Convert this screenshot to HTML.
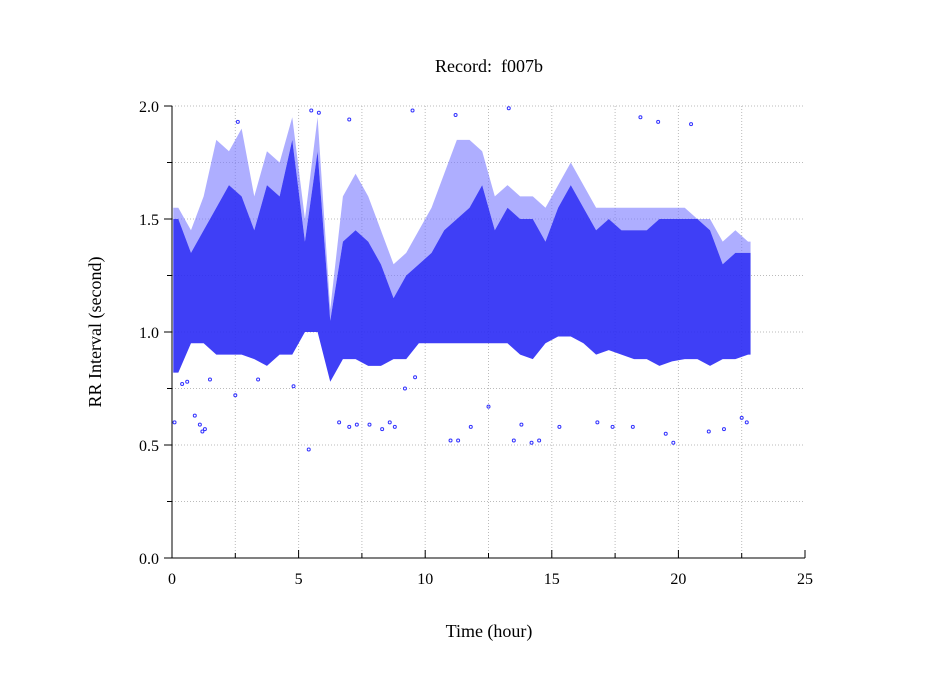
<!DOCTYPE html>
<html><head><meta charset="utf-8"><style>
body{margin:0;background:#fff}
svg{display:block;font-family:"Liberation Serif",serif}
</style></head><body>
<svg id="chart" width="949" height="697" viewBox="0 0 949 697">
<rect width="949" height="697" fill="#fff"/>
<text x="489" y="72" font-size="18" text-anchor="middle">Record:&#160; f007b</text>
<g id="grid"></g>
<g id="bands"></g>
<g id="points"></g>
<g id="axes"></g>
<text x="489" y="637" font-size="18" text-anchor="middle">Time (hour)</text>
<text transform="translate(101,332) rotate(-90)" font-size="18" text-anchor="middle">RR Interval (second)</text>
</svg>
<script>
const binStart=[0,0.5,1,1.5,2,2.5,3,3.5,4,4.5,5,5.5,6,6.5,7,7.5,8,8.5,9,9.5,10,10.5,11,11.5,12,12.5,13,13.5,14,14.5,15,15.5,16,16.5,17,17.5,18,18.5,19,19.5,20,20.5,21,21.5,22,22.5];
const binLow=[0.82,0.95,0.95,0.9,0.9,0.9,0.88,0.85,0.9,0.9,1.0,1.0,0.78,0.88,0.88,0.85,0.85,0.88,0.88,0.95,0.95,0.95,0.95,0.95,0.95,0.95,0.95,0.9,0.88,0.95,0.98,0.98,0.95,0.9,0.92,0.9,0.88,0.88,0.85,0.87,0.88,0.88,0.85,0.88,0.88,0.9];
const binHigh=[1.5,1.35,1.45,1.55,1.65,1.6,1.45,1.65,1.6,1.85,1.4,1.8,1.05,1.4,1.45,1.4,1.3,1.15,1.25,1.3,1.35,1.45,1.5,1.55,1.65,1.45,1.55,1.5,1.5,1.4,1.55,1.65,1.55,1.45,1.5,1.45,1.45,1.45,1.5,1.5,1.5,1.5,1.45,1.3,1.35,1.35];
const binPeak=[1.55,1.45,1.6,1.85,1.8,1.9,1.6,1.8,1.75,1.95,1.5,1.95,1.1,1.6,1.7,1.6,1.45,1.3,1.35,1.45,1.55,1.7,1.85,1.85,1.8,1.6,1.65,1.6,1.6,1.55,1.65,1.75,1.65,1.55,1.55,1.55,1.55,1.55,1.55,1.55,1.55,1.5,1.5,1.4,1.45,1.4];
const outT=[0.1,0.4,0.6,0.9,1.1,1.2,1.3,1.5,2.5,3.4,4.8,5.4,6.6,7.0,7.3,7.8,8.3,8.6,8.8,9.2,9.6,11,11.3,11.8,12.5,13.5,13.8,14.2,14.5,15.3,16.8,17.4,18.2,19.5,19.8,21.2,21.8,22.5,22.7,5.5,5.8,7,9.5,11.2,13.3,18.5,19.2,20.5,2.6];
const outV=[0.6,0.77,0.78,0.63,0.59,0.56,0.57,0.79,0.72,0.79,0.76,0.48,0.6,0.58,0.59,0.59,0.57,0.6,0.58,0.75,0.8,0.52,0.52,0.58,0.67,0.52,0.59,0.51,0.52,0.58,0.6,0.58,0.58,0.55,0.51,0.56,0.57,0.62,0.6,1.98,1.97,1.94,1.98,1.96,1.99,1.95,1.93,1.92,1.93];
const xTicks=[0,5,10,15,20,25];
const yTicks=[0.0,0.5,1.0,1.5,2.0];
const X0=172,X1=805,Y0=558,Y1=106;
const xs=t=>X0+(t/25)*(X1-X0);
const ys=v=>Y0-(v/2)*(Y0-Y1);
const NS='http://www.w3.org/2000/svg';
function mk(tag,attrs,parent){const e=document.createElementNS(NS,tag);for(const k in attrs)e.setAttribute(k,attrs[k]);document.getElementById(parent).appendChild(e);return e;}
for(let i=1;i<10;i++){const x=xs(i*2.5);const g=mk('line',{x1:x,x2:x,y1:Y1,y2:Y0,stroke:'#bbb','stroke-dasharray':'1,2'},'grid');}
for(let i=1;i<=8;i++){const y=ys(i*0.25);const g=mk('line',{x1:X0,x2:X1,y1:y,y2:y,stroke:'#bbb','stroke-dasharray':'1,2'},'grid');}
const endT=22.85;
const centers=binStart.map(t=>Math.min(t+0.25,endT));
function area(top,bot){
 let d=`M${xs(0.05)},${ys(top[0])}`;
 centers.forEach((c,i)=>{d+=`L${xs(c)},${ys(top[i])}`;});
 d+=`L${xs(endT)},${ys(top[top.length-1])}L${xs(endT)},${ys(bot[bot.length-1])}`;
 for(let i=centers.length-1;i>=0;i--){d+=`L${xs(centers[i])},${ys(bot[i])}`;}
 d+=`L${xs(0.05)},${ys(bot[0])}Z`;return d;
}
const pk=mk('path',{d:area(binPeak,binHigh),fill:'#7878ff','fill-opacity':0.6},'bands');


const dn=mk('path',{d:area(binHigh,binLow),fill:'#2a2af5','fill-opacity':0.9},'bands');


outT.forEach((t,i)=>{const c=mk('circle',{cx:xs(t),cy:ys(outV[i]),r:1.5,fill:'none',stroke:'#3333ff','stroke-width':1},'points');});
const ax=mk('path',{d:`M${X0},${Y1}V${Y0}H${X1}`,stroke:'#000','stroke-width':1,fill:'none'},'axes');

for(let i=0;i<=10;i++){const x=xs(i*2.5);const l=mk('line',{x1:x,x2:x,y1:Y0,y2:Y0-(i%2?5:8),stroke:'#000'},'axes');}
for(let i=0;i<=8;i++){const y=ys(i*0.25);const l=mk('line',{x1:X0-(i%2?5:8),x2:X0,y1:y,y2:y,stroke:'#000'},'axes');}
xTicks.forEach(v=>{const t=mk('text',{x:xs(v),y:584,'font-size':16,'text-anchor':'middle'},'axes');t.textContent=v;});
yTicks.forEach(v=>{const t=mk('text',{x:159,y:ys(v)+6,'font-size':16,'text-anchor':'end'},'axes');t.textContent=v.toFixed(1);});
</script>
</body></html>
